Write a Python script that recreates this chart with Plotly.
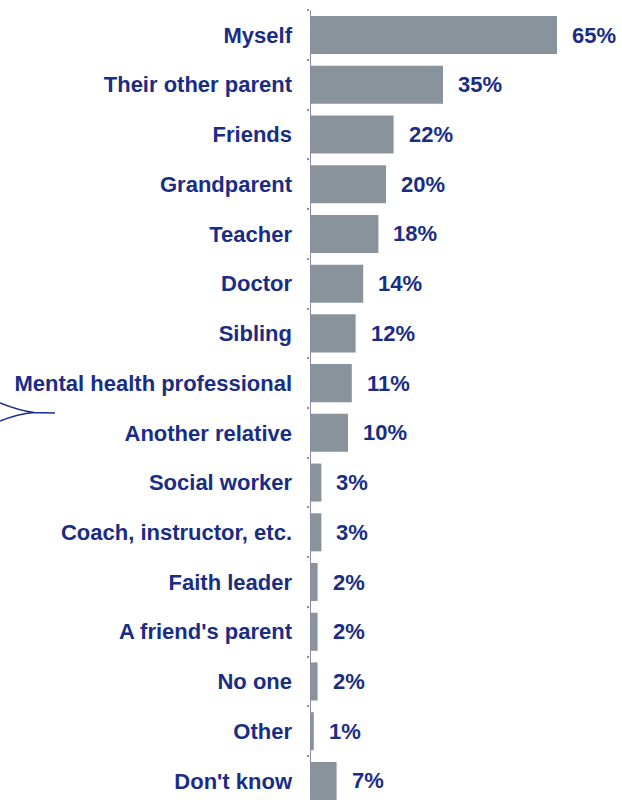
import plotly.graph_objects as go

# Who respondents turn to (share of responses, %)
categories = [
    "Myself", "Their other parent", "Friends", "Grandparent", "Teacher",
    "Doctor", "Sibling", "Mental health professional", "Another relative",
    "Social worker", "Coach, instructor, etc.", "Faith leader",
    "A friend's parent", "No one", "Other", "Don't know",
]
values = [65, 35, 22, 20, 18, 14, 12, 11, 10, 3, 3, 2, 2, 2, 1, 7]
value_labels = [f"{v}%" for v in values]

BAR = "#89939b"
NAVY = "#1a2d85"
AXIS = "#8c8ca6"
FONT = "Liberation Sans, Arial, sans-serif"

W, H = 622, 800
L = 310

fig = go.Figure(
    go.Bar(
        x=values,
        y=categories,
        orientation="h",
        marker=dict(color=BAR, line=dict(width=0)),
        hoverinfo="skip",
    )
)

for cat, v, lab in zip(categories, values, value_labels):
    fig.add_annotation(
        x=v, y=cat, xref="x", yref="y", text=f"<b>{lab}</b>",
        showarrow=False, xanchor="left", yanchor="middle", xshift=13,
        font=dict(family=FONT, size=22, color=NAVY),
    )

# vertical baseline from the first to the last category boundary
fig.add_shape(
    type="line", xref="x", yref="y", x0=0, x1=0, y0=-0.5, y1=len(categories) - 0.5,
    line=dict(color=AXIS, width=2), layer="above",
)

# brace tip at the left edge
def px(xp):
    return (xp - L) / (W - L)

def py(yp):
    return 1 - yp / H

brace = (
    f"M {px(0)},{py(403)} Q {px(20)},{py(411)} {px(34)},{py(412.5)} "
    f"L {px(55)},{py(413)} M {px(34)},{py(412.5)} "
    f"Q {px(18)},{py(414)} {px(0)},{py(421)}"
)
fig.add_shape(type="path", xref="paper", yref="paper", path=brace,
              line=dict(color=NAVY, width=1.6))

fig.update_layout(
    width=W, height=H,
    margin=dict(l=L, r=0, t=0, b=0),
    paper_bgcolor="white", plot_bgcolor="white",
    bargap=0.235,
    showlegend=False,
    font=dict(family=FONT, color=NAVY),
    xaxis=dict(range=[0, (W - L) / 3.8], visible=False, fixedrange=True),
    yaxis=dict(
        type="category",
        categoryorder="array", categoryarray=categories,
        range=[15.383, -0.704],
        showgrid=False, zeroline=False, showline=False,
        ticks="outside", tickson="boundaries", ticklen=2,
        tickcolor=AXIS, tickwidth=2,
        ticklabelstandoff=17,
        tickfont=dict(family=FONT, size=22, color=NAVY),
        tickvals=categories,
        ticktext=[f"<b>{c}</b>" for c in categories],
        fixedrange=True,
    ),
)

fig.write_html("out.html")
